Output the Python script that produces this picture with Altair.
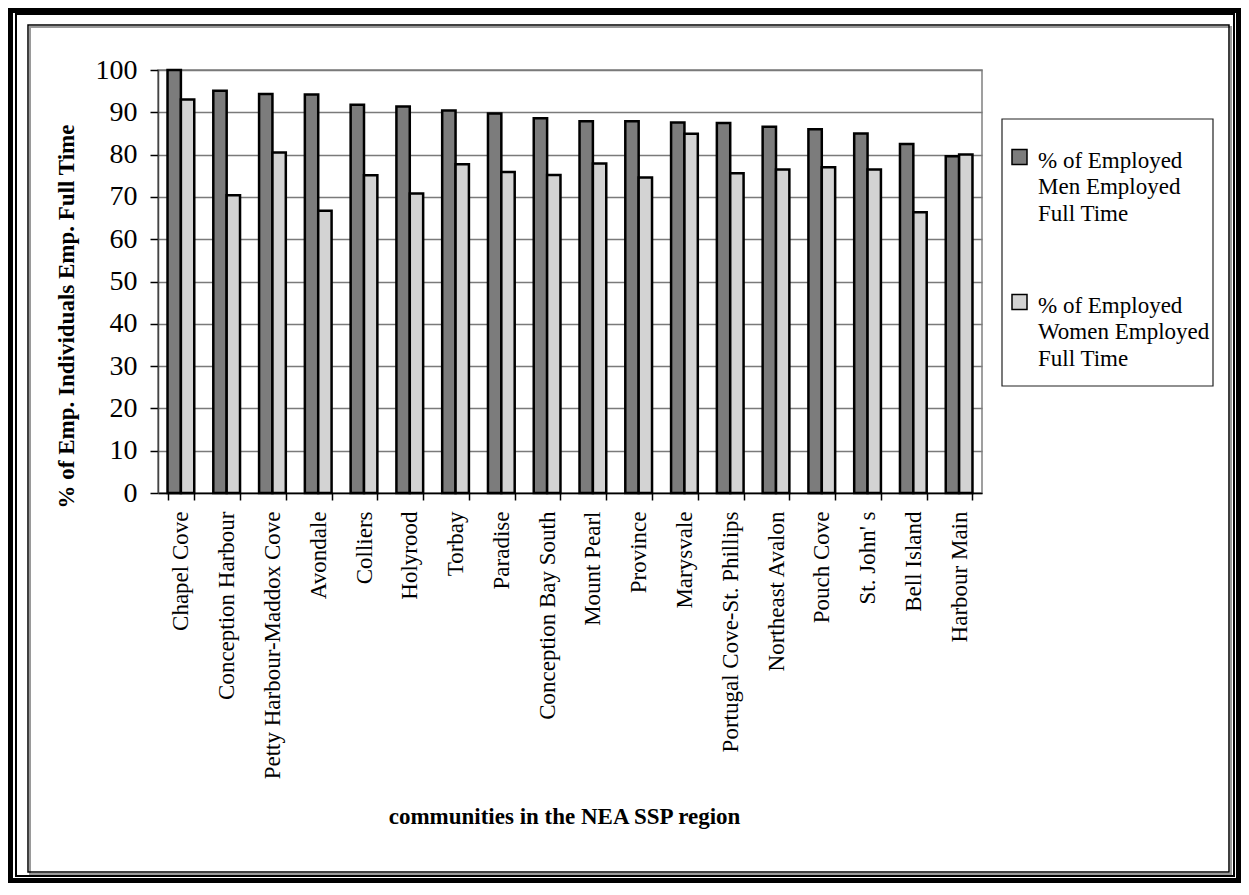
import json
import altair as alt
import pandas as pd

communities = [
    "Chapel Cove", "Conception Harbour", "Petty Harbour-Maddox Cove", "Avondale",
    "Colliers", "Holyrood", "Torbay", "Paradise", "Conception Bay South",
    "Mount Pearl", "Province", "Marysvale", "Portugal Cove-St. Phillips",
    "Northeast Avalon", "Pouch Cove", "St. John' s", "Bell Island", "Harbour Main",
]
men = [100.0, 95.1, 94.3, 94.2, 91.8, 91.4, 90.4, 89.7, 88.6,
       87.9, 87.9, 87.6, 87.5, 86.6, 86.0, 85.0, 82.5, 79.6]
women = [93.0, 70.4, 80.5, 66.7, 75.1, 70.8, 77.7, 75.9, 75.2,
         77.9, 74.6, 84.9, 75.6, 76.5, 77.0, 76.5, 66.4, 80.0]
series = ["% of Employed Men Employed Full Time", "% of Employed Women Employed Full Time"]
legend_lines = [["% of Employed", "Men Employed", "Full Time"],
                ["% of Employed", "Women Employed", "Full Time"]]
y_ticks = list(range(0, 101, 10))

rows = []
for c, m, w in zip(communities, men, women):
    rows.append({"community": c, "series": series[0], "value": m})
    rows.append({"community": c, "series": series[1], "value": w})
df = pd.DataFrame(rows)

FONT = "Liberation Serif"
W, H = 824, 423

label_expr = "datum.label == '%s' ? %s : %s" % (
    series[0], json.dumps(legend_lines[0]), json.dumps(legend_lines[1]))

bars = alt.Chart(df).mark_bar(stroke="black", strokeWidth=2.5).encode(
    x=alt.X(
        "community:N", sort=communities,
        scale=alt.Scale(paddingInner=0.416, paddingOuter=0.208),
        axis=alt.Axis(
            title="communities in the NEA SSP region",
            labelAngle=270, labelAlign="right", labelBaseline="middle",
            labelPadding=11, labelFontSize=23, labelLimit=0, labelOverlap=False,
            tickBand="extent", tickSize=7, tickColor="black", tickWidth=1.5,
            domainColor="black", domainWidth=1.5,
            titleFontSize=23, titleFontWeight="bold", titleX=406, titleY=330,
            titleBaseline="alphabetic", titleAlign="center",
        ),
    ),
    xOffset=alt.XOffset("series:N", sort=series,
                        scale=alt.Scale(paddingInner=0, paddingOuter=0)),
    y=alt.Y(
        "value:Q",
        scale=alt.Scale(domain=[0, 100], nice=False),
        axis=alt.Axis(
            values=y_ticks, title="% of Emp. Individuals Emp. Full Time",
            labelFontSize=28, labelPadding=13, tickSize=8, tickColor="black",
            tickWidth=1.5, domainColor="#444444", domainWidth=1.5,
            grid=True, gridColor="#7a7a7a", gridWidth=1.3,
            titleFontSize=23, titleFontWeight="bold", titleAngle=270,
            titleX=-85, titleY=246, titleBaseline="alphabetic", titleAlign="center",
        ),
    ),
    color=alt.Color(
        "series:N", sort=series,
        scale=alt.Scale(domain=series, range=["#7c7c7c", "#d3d3d3"]),
        legend=alt.Legend(
            title=None, orient="none", legendX=850, legendY=68,
            symbolType="M-1,0H1V2H-1Z", symbolSize=225,
            symbolStrokeColor="black", symbolStrokeWidth=1.5,
            labelFontSize=23, labelFont=FONT, labelBaseline="top",
            labelOffset=7, labelLimit=0, rowPadding=57, padding=0,
            labelExpr=label_expr,
        ),
    ),
)

one = alt.Data(values=[{"k": 1}])


def frame(x, x2, y, y2, color, width):
    return alt.Chart(one).mark_rect(
        fillOpacity=0, stroke=color, strokeWidth=width
    ).encode(x=alt.value(x), x2=alt.value(x2), y=alt.value(y), y2=alt.value(y2))


decor = [
    frame(-147.5, 1080.5, -59.5, 810.5, "black", 5),
    frame(-142, 1076, -56, 806, "black", 2),
    frame(-128, 1073, -43, 804, "#9a9a9a", 2),
    frame(-130, 1071, -45, 802, "black", 1.5),
    frame(844, 1055, 49, 316, "#222222", 1.2),
]

chart = alt.layer(*decor, bars).properties(
    width=W, height=H,
    autosize=alt.AutoSizeParams(type="none"),
    padding={"left": 150, "top": 62, "right": 259, "bottom": 390},
    background="white",
).configure(
    font=FONT,
    style={"guide-label": {"lineHeight": 26.7}},
).configure_axis(
    labelFont=FONT, titleFont=FONT, labelColor="black", titleColor="black",
).configure_view(
    stroke="#808080", strokeWidth=1.5,
)

chart.save("out.html", embed_options={"renderer": "svg", "actions": False})
